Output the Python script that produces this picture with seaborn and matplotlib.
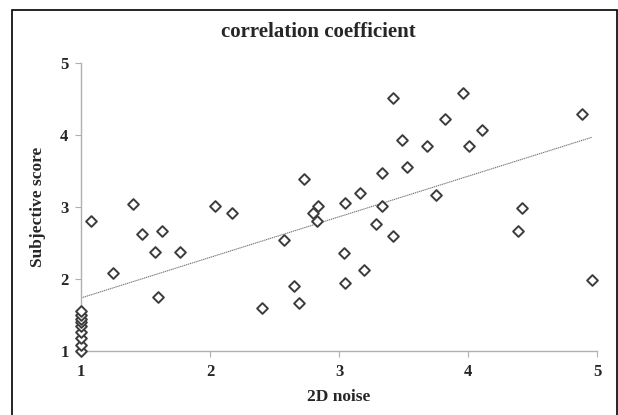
import matplotlib
matplotlib.use("Agg")
import matplotlib.pyplot as plt
import seaborn as sns
import pandas as pd
from matplotlib.patches import Rectangle

# ---- data ----
noise_2d = [1.0, 1.0, 1.0, 1.0, 1.0, 1.0, 1.0, 1.0, 1.0,
            1.08, 1.40, 1.25, 1.47, 1.63, 1.57, 1.77, 1.60,
            2.04, 2.17, 2.40, 2.57, 2.73, 2.65, 2.69, 2.84, 2.80, 2.83,
            3.05, 3.16, 3.04, 3.19, 3.05, 3.33, 3.33, 3.29, 3.42, 3.42,
            3.49, 3.53, 3.68, 3.75, 3.96, 3.82, 4.11, 4.01, 4.42, 4.39,
            4.88, 4.96]
subjective = [1.00, 1.09, 1.18, 1.27, 1.35, 1.40, 1.45, 1.50, 1.56,
              2.80, 3.04, 2.09, 2.63, 2.67, 2.37, 2.37, 1.75,
              3.01, 2.92, 1.60, 2.54, 3.39, 1.90, 1.67, 3.02, 2.91, 2.81,
              3.06, 3.19, 2.36, 2.13, 1.95, 3.47, 3.01, 2.77, 2.60, 4.51,
              3.93, 3.55, 3.85, 3.16, 4.58, 4.22, 4.07, 3.85, 2.98, 2.67,
              4.29, 1.99]
ticks = [1, 2, 3, 4, 5]
title = "correlation coefficient"
xlabel = "2D noise"
ylabel = "Subjective score"

df = pd.DataFrame({"x": noise_2d, "y": subjective})

sns.set_style("white")
plt.rcParams["font.family"] = ["Liberation Serif", "DejaVu Serif"]

fig = plt.figure(figsize=(6.18, 4.15), dpi=100)
ax = fig.add_axes([81 / 618, 1 - 351 / 415, (597 - 81) / 618, (351 - 63) / 415])

sns.regplot(data=df, x="x", y="y", ax=ax, ci=None, scatter=False,
            truncate=True,
            line_kws=dict(color="#7a7a7a", lw=0.8, ls=(0, (1.2, 0.6)), zorder=1))
sns.scatterplot(data=df, x="x", y="y", ax=ax, marker="D", s=30,
                facecolor="white", edgecolor="#3c3c3c", linewidth=1.4,
                zorder=3, clip_on=False)

ax.set_xlim(1, 5)
ax.set_ylim(1, 5)
ax.set_xticks(ticks)
ax.set_yticks(ticks)
ax.set_xticklabels([str(t) for t in ticks], fontweight="bold", fontsize=12)
ax.set_yticklabels([str(t) for t in ticks], fontweight="bold", fontsize=12)
ax.tick_params(axis="both", direction="out", length=4, width=0.8,
               color="#b0b0b0", pad=5, bottom=True, left=True)
for s in ["top", "right"]:
    ax.spines[s].set_visible(False)
for s in ["left", "bottom"]:
    ax.spines[s].set_color("#b0b0b0")
    ax.spines[s].set_linewidth(1.0)

ax.set_xlabel(xlabel, fontweight="bold", fontsize=12.5, labelpad=7)
ax.set_ylabel(ylabel, fontweight="bold", fontsize=12.5, labelpad=10)
fig.text(318 / 618, 1 - 32 / 415, title, ha="center", va="center",
         fontweight="bold", fontsize=15)

fig.patches.append(Rectangle((12 / 618, -0.05), (617 - 12) / 618, 1.05 - 10 / 415,
                             transform=fig.transFigure, fill=False,
                             edgecolor="black", linewidth=1.2))

fig.savefig("out.png", dpi=100)
